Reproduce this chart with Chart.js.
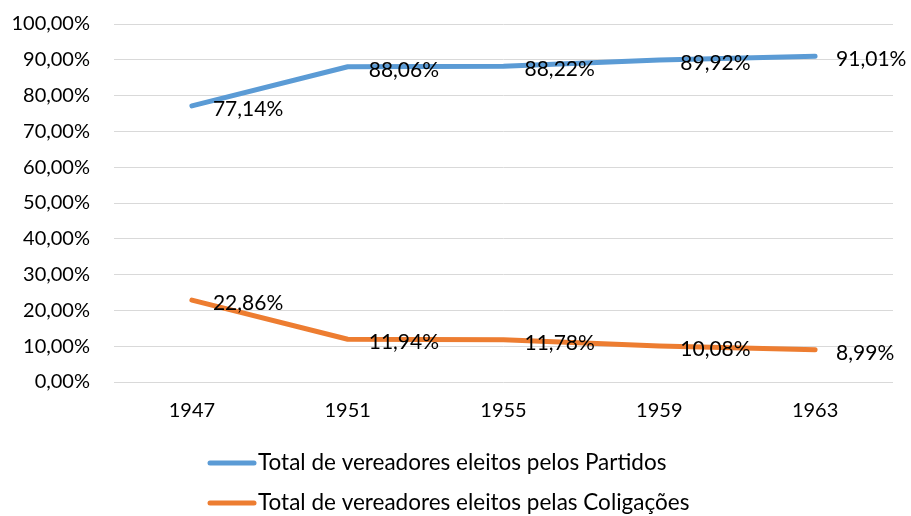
<!DOCTYPE html>
<html>
<head>
<meta charset="utf-8">
<script src="https://cdn.jsdelivr.net/npm/chart.js@4"></script>
<style>
html,body{margin:0;padding:0;background:#fff;}
#wrap{width:911px;height:516px;position:relative;}
</style>
</head>
<body>
<div id="wrap"><canvas id="c" width="911" height="516"></canvas></div>
<script>
const categories = ['1947', '1951', '1955', '1959', '1963'];
const partidos = [77.14, 88.06, 88.22, 89.92, 91.01];
const coligacoes = [22.86, 11.94, 11.78, 10.08, 8.99];
const seriesNames = ['Total de vereadores eleitos pelos Partidos', 'Total de vereadores eleitos pelas Coligações'];
const yTicks = [0, 10, 20, 30, 40, 50, 60, 70, 80, 90, 100];

const FONT = 'Lato';
const fmt = v => v.toFixed(2).replace('.', ',') + '%';

const dataLabels = {
  id: 'dataLabels',
  afterDatasetsDraw(chart) {
    const ctx = chart.ctx;
    ctx.save();
    ctx.font = '21px ' + FONT;
    ctx.fillStyle = '#000';
    ctx.textAlign = 'left';
    ctx.textBaseline = 'middle';
    chart.data.datasets.forEach((ds, i) => {
      const meta = chart.getDatasetMeta(i);
      meta.data.forEach((pt, j) => {
        ctx.fillText(fmt(ds.data[j]), pt.x + 21, pt.y + 3);
      });
    });
    ctx.restore();
  }
};

const customLegend = {
  id: 'customLegend',
  afterDraw(chart) {
    const ctx = chart.ctx;
    ctx.save();
    const rows = [463, 503];
    chart.data.datasets.forEach((ds, i) => {
      const y = rows[i];
      ctx.strokeStyle = ds.borderColor;
      ctx.lineWidth = 5;
      ctx.lineCap = 'round';
      ctx.beginPath();
      ctx.moveTo(210, y);
      ctx.lineTo(254, y);
      ctx.stroke();
      ctx.font = '22.5px ' + FONT;
      ctx.fillStyle = '#000';
      ctx.textAlign = 'left';
      ctx.textBaseline = 'middle';
      ctx.fillText(ds.label, 258, y);
    });
    ctx.restore();
  }
};

new Chart(document.getElementById('c'), {
  type: 'line',
  data: {
    labels: categories,
    datasets: [
      { label: seriesNames[0], data: partidos, borderColor: '#5B9BD5', backgroundColor: '#5B9BD5', borderWidth: 5, pointRadius: 0, borderCapStyle: 'round', borderJoinStyle: 'round', tension: 0 },
      { label: seriesNames[1], data: coligacoes, borderColor: '#ED7D31', backgroundColor: '#ED7D31', borderWidth: 5, pointRadius: 0, borderCapStyle: 'round', borderJoinStyle: 'round', tension: 0 }
    ]
  },
  options: {
    responsive: false,
    animation: false,
    devicePixelRatio: 1,
    layout: { padding: { top: 24, right: 18, bottom: 0, left: 0 } },
    plugins: { legend: { display: false }, tooltip: { enabled: false } },
    scales: {
      x: {
        offset: true,
        grid: { display: false },
        border: { display: false },
        ticks: { color: '#000', font: { family: FONT, size: 20 }, padding: 9, maxRotation: 0 },
        afterFit(scale) { scale.height = 134; }
      },
      y: {
        min: 0, max: 100,
        afterBuildTicks(scale) { scale.ticks = yTicks.map(v => ({ value: v })); },
        grid: { color: '#d9d9d9', lineWidth: 1, drawTicks: false },
        border: { display: false },
        ticks: { color: '#000', font: { family: FONT, size: 20 }, padding: 24, callback: v => fmt(v) },
        afterFit(scale) { scale.width = 114; scale.paddingTop = 0; scale.paddingBottom = 0; }
      }
    }
  },
  plugins: [dataLabels, customLegend]
});
</script>
</body>
</html>
